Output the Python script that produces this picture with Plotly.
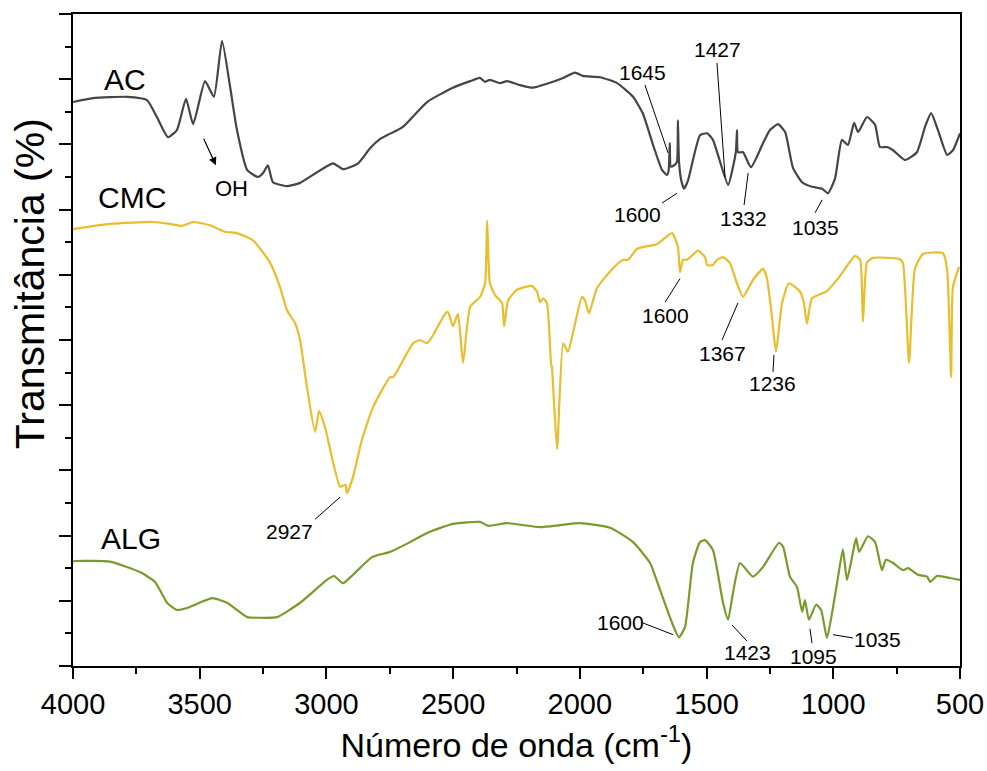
import plotly.graph_objects as go

# FTIR spectra, stacked with vertical offsets (arbitrary transmittance units)
ac_wn = [4000, 3921, 3787, 3708, 3669, 3625, 3590, 3554, 3526, 3479, 3444, 3412, 3380, 3353,
         3313, 3270, 3250, 3231, 3211, 3156, 3104, 2974, 2935, 2875, 2828, 2789, 2761, 2698,
         2603, 2501, 2433, 2394, 2374, 2355, 2315, 2287, 2236, 2185, 2130, 2066, 2019, 1988,
         1920, 1853, 1790, 1751, 1711, 1676, 1656, 1650, 1645, 1641, 1628, 1617, 1613, 1609,
         1600, 1589, 1573, 1526, 1498, 1475, 1415, 1396, 1384, 1380, 1376, 1356, 1325, 1277,
         1250, 1218, 1190, 1159, 1123, 1084, 1044, 1021, 993, 966, 942, 918, 902, 867, 835,
         816, 788, 764, 717, 670, 638, 614, 587, 551, 528, 500]
ac_t = [86.5, 87.1, 87.3, 86.8, 84.2, 81.1, 82.2, 87.0, 83.1, 89.7, 87.3, 95.9, 88.8, 82.2,
        76.1, 75.0, 75.6, 76.8, 74.2, 73.6, 74.1, 77.1, 76.2, 77.1, 79.4, 80.8, 81.4, 82.7,
        86.5, 88.7, 89.7, 90.2, 89.6, 89.9, 89.4, 89.7, 89.1, 88.7, 89.3, 90.2, 91.0, 90.5,
        90.3, 89.4, 87.3, 84.7, 79.9, 76.1, 75.3, 75.9, 80.2, 76.6, 76.8, 77.3, 83.7, 77.5,
        74.5, 73.2, 74.5, 81.4, 81.7, 80.7, 73.8, 76.5, 79.0, 82.2, 78.8, 78.8, 76.5, 80.2,
        82.2, 83.1, 81.9, 76.4, 74.2, 73.5, 73.2, 72.5, 74.8, 80.7, 79.9, 83.3, 81.9, 84.2, 83.0,
        79.6, 79.6, 79.1, 77.6, 78.8, 82.7, 84.8, 82.2, 78.4, 79.1, 81.7]

cmc_wn = [4000, 3854, 3684, 3617, 3570, 3526, 3459, 3400, 3353, 3290, 3223, 3183, 3156, 3124,
          3104, 3077, 3045, 3029, 3006, 2946, 2925, 2919, 2895, 2860, 2816, 2749, 2737, 2658,
          2631, 2603, 2583, 2532, 2520, 2501, 2481, 2461, 2433, 2394, 2374, 2366, 2355, 2335,
          2307, 2299, 2283, 2248, 2189, 2169, 2157, 2145, 2130, 2114, 2110, 2090, 2066, 2047,
          2027, 1992, 1980, 1964, 1932, 1869, 1830, 1810, 1774, 1696, 1636, 1613, 1605, 1593,
          1577, 1534, 1506, 1498, 1475, 1459, 1435, 1408, 1380, 1356, 1317, 1277, 1262, 1242,
          1226, 1202, 1175, 1131, 1116, 1104, 1084, 1025, 974, 914, 894, 883, 867, 843, 737,
          725, 701, 678, 646, 567, 551, 535, 528, 504]
cmc_t = [67.0, 67.8, 68.1, 67.8, 67.5, 68.1, 67.6, 66.6, 66.4, 65.3, 61.9, 58.1, 54.6, 52.6,
         50.0, 42.8, 35.9, 39.1, 36.7, 27.5, 27.8, 26.5, 29.0, 34.7, 39.7, 44.3, 44.3, 49.5,
         50.0, 49.5, 50.5, 54.0, 54.3, 52.1, 54.0, 46.5, 55.1, 56.6, 58.7, 68.3, 58.7, 56.9,
         55.7, 52.1, 56.1, 57.7, 58.3, 57.4, 55.8, 56.4, 55.7, 46.5, 45.7, 33.3, 49.5, 48.2,
         51.1, 56.6, 56.1, 54.1, 58.0, 61.0, 62.3, 62.3, 64.0, 64.7, 66.4, 64.3, 60.4, 62.3,
         62.3, 63.7, 62.7, 61.5, 61.5, 62.3, 62.7, 61.8, 58.7, 56.6, 59.2, 60.9, 59.5, 53.5,
         48.2, 55.7, 58.7, 57.4, 55.7, 52.5, 56.4, 57.5, 59.8, 62.9, 62.3, 52.8, 61.9, 62.6,
         62.4, 61.8, 46.5, 60.9, 63.2, 63.3, 60.9, 44.3, 58.1, 61.2]

alg_wn = [4000, 3992, 3854, 3736, 3676, 3629, 3590, 3550, 3451, 3392, 3313, 3262, 3195, 3104,
          2998, 2970, 2935, 2895, 2820, 2749, 2670, 2603, 2501, 2394, 2362, 2287, 2157, 2078,
          1999, 1881, 1790, 1723, 1684, 1636, 1609, 1585, 1554, 1526, 1506, 1475, 1435, 1415,
          1396, 1368, 1317, 1277, 1214, 1198, 1171, 1143, 1123, 1112, 1096, 1068, 1048, 1025,
          1001, 981, 962, 946, 926, 910, 898, 863, 835, 808, 792, 764, 725, 705, 666, 630, 618,
          591, 539, 500]
alg_t = [16.0, 16.1, 16.0, 14.4, 12.9, 9.7, 8.6, 8.9, 10.4, 9.7, 7.5, 7.4, 7.5, 9.7,
         13.2, 13.8, 12.7, 14.0, 16.7, 17.5, 19.0, 20.4, 21.8, 22.1, 21.5, 21.9, 21.3, 21.6,
         21.9, 21.2, 19.0, 15.8, 11.7, 6.6, 4.4, 6.0, 15.8, 19.0, 19.3, 17.8, 9.7, 7.1,
         11.2, 15.8, 13.7, 15.2, 18.9, 18.3, 13.7, 12.1, 8.3, 10.1, 7.1, 9.4, 8.6, 4.3,
         9.0, 13.7, 17.9, 13.2, 16.7, 19.6, 17.5, 19.9, 19.0, 14.7, 16.3, 15.8, 14.7, 15.0,
         14.0, 13.7, 12.9, 13.8, 13.5, 13.2]

series = [
    ("AC", ac_wn, ac_t, "#454545"),
    ("CMC", cmc_wn, cmc_t, "#EBBD2A"),
    ("ALG", alg_wn, alg_t, "#7A9A2B"),
]

# curve names: (label, wavenumber, level)
curve_labels = [("AC", 3795, 89.9), ("CMC", 3767, 71.8), ("ALG", 3771, 19.6)]

# peak labels: (text, text_x, text_y, leader x0, y0, x1, y1)
peak_labels = [
    ("1645", 1751, 91.0, 1743, 89.1, 1652, 78.7),
    ("1427", 1455, 94.5, 1459, 92.5, 1427, 75.0),
    ("1600", 1771, 69.2, 1617, 72.5, 1676, 71.0),
    ("1332", 1356, 68.7, 1336, 75.6, 1352, 70.7),
    ("1035", 1072, 67.3, 1044, 71.5, 1072, 69.5),
    ("1600", 1664, 53.8, 1605, 59.4, 1664, 55.8),
    ("1367", 1439, 48.0, 1376, 55.7, 1439, 50.0),
    ("1236", 1238, 43.3, 1234, 47.7, 1238, 45.1),
    ("2927", 3144, 20.6, 2946, 25.9, 3045, 22.5),
    ("1600", 1838, 6.6, 1751, 6.6, 1632, 4.8),
    ("1423", 1340, 2.0, 1400, 6.3, 1340, 3.8),
    ("1095", 1080, 1.4, 1092, 5.7, 1084, 3.5),
    ("1035", 827, 4.0, 1001, 4.8, 922, 4.3),
]

FONT = "Liberation Sans, Arial, sans-serif"

fig = go.Figure()
for name, wn, t, color in series:
    fig.add_trace(go.Scatter(x=wn, y=t, mode="lines", name=name,
                             line=dict(color=color, width=2.2, shape="spline", smoothing=0.5),
                             showlegend=False))

annotations = []
for text, x, y in curve_labels:
    annotations.append(dict(x=x, y=y, text=text, showarrow=False,
                            font=dict(family=FONT, size=30, color="black")))

shapes = []
for text, tx, ty, x0, y0, x1, y1 in peak_labels:
    annotations.append(dict(x=tx, y=ty, text=text, showarrow=False,
                            font=dict(family=FONT, size=21, color="black")))
    shapes.append(dict(type="line", xref="x", yref="y", x0=x0, y0=y0, x1=x1, y1=y1,
                       line=dict(color="black", width=1)))

# OH arrow
annotations.append(dict(x=3436, y=76.8, ax=3487, ay=81.1, axref="x", ayref="y",
                        text="", showarrow=True, arrowhead=2, arrowsize=1.3,
                        arrowwidth=1.2, arrowcolor="black"))
annotations.append(dict(x=3373, y=73.3, text="OH", showarrow=False,
                        font=dict(family=FONT, size=22, color="black")))

# vertical axis title
annotations.append(dict(x=-0.0485, y=0.587, xref="paper", yref="paper",
                        text="Transmitância (%)", textangle=-90, showarrow=False,
                        xanchor="center", yanchor="middle",
                        font=dict(family=FONT, size=41, color="black")))

fig.update_layout(
    width=987, height=771,
    margin=dict(l=73, r=27, t=14, b=105),
    paper_bgcolor="white", plot_bgcolor="white",
    font=dict(family=FONT, color="black"),
    annotations=annotations, shapes=shapes,
    xaxis=dict(
        range=[4000, 500], dtick=500, tick0=500, automargin=False,
        showline=True, linecolor="black", linewidth=2, mirror=True,
        ticks="outside", ticklen=11, tickwidth=2, tickcolor="black",
        minor=dict(dtick=250, ticks="outside", ticklen=6, tickwidth=2, tickcolor="black"),
        showgrid=False, zeroline=False,
        tickfont=dict(family=FONT, size=29),
        title=dict(text="Número de onda (cm<sup>-1</sup>)", font=dict(family=FONT, size=34),
                   standoff=14),
    ),
    yaxis=dict(
        range=[0, 100], dtick=10, tick0=0, automargin=False,
        showline=True, linecolor="black", linewidth=2, mirror=True,
        ticks="outside", ticklen=12, tickwidth=2, tickcolor="black",
        minor=dict(dtick=5, ticks="outside", ticklen=6, tickwidth=2, tickcolor="black"),
        showgrid=False, zeroline=False, showticklabels=False,
    ),
)

fig.write_html("out.html")
